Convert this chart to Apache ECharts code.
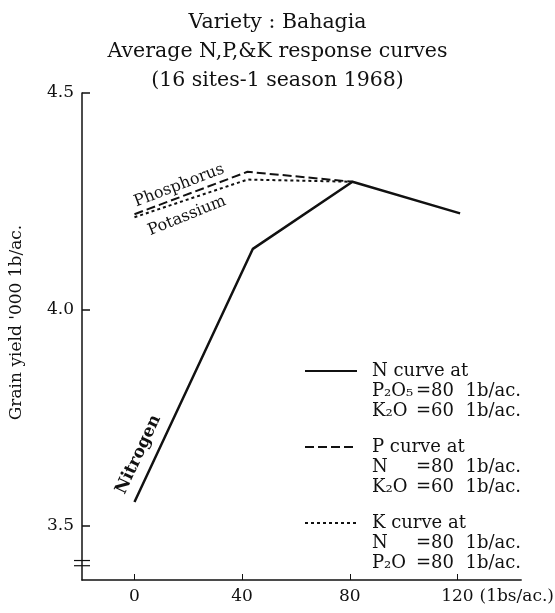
<!DOCTYPE html>
<html>
<head>
<meta charset="utf-8">
<script src="https://cdn.jsdelivr.net/npm/echarts@6/dist/echarts.min.js"></script>
<style>
  html, body { margin: 0; background: #fff; }
  #chart { width: 555px; height: 613px; }
</style>
</head>
<body>
<div id="chart"></div>
<script>
// values (x = lb/ac. of nutrient, y = '000 lb/ac.)
const xTicks = [0, 40, 80, 120];
const yTicks = [3.5, 4.0, 4.5];
const nitrogen = [[0, 3.555], [44, 4.14], [81, 4.295], [121, 4.222]];
const phosphorus = [[0, 4.22], [42, 4.318], [81, 4.295]];
const potassium = [[0, 4.213], [42, 4.3], [81, 4.295]];
const titleLines = ["Variety : Bahagia", "Average N,P,&K response curves", "(16 sites-1 season 1968)"];

const serif = "DejaVu Serif";
const legendNames = {
  N: "N curve at\n{k|P₂O₅}{v|=80  1b/ac.}\n{k|K₂O}{v|=60  1b/ac.}",
  P: "P curve at\n{k|N}{v|=80  1b/ac.}\n{k|K₂O}{v|=60  1b/ac.}",
  K: "K curve at\n{k|N}{v|=80  1b/ac.}\n{k|P₂O}{v|=80  1b/ac.}",
};

function curveLabel(name, coord, rotate, bold) {
  return {
    symbol: "circle",
    symbolSize: 0,
    silent: true,
    label: {
      show: true,
      position: "inside",
      formatter: "{b}",
      rotate: rotate,
      color: "#111",
      fontFamily: serif,
      fontSize: bold ? 17 : 16,
      fontWeight: bold ? "bold" : "normal",
    },
    data: [{ name: name, coord: coord }],
  };
}

const chart = echarts.init(document.getElementById("chart"));
const option = {
  backgroundColor: "#ffffff",
  animation: false,
  title: {
    text: titleLines.join("\n"),
    left: "center",
    top: 8,
    padding: 0,
    textStyle: {
      fontFamily: serif,
      fontSize: 20.5,
      fontWeight: "normal",
      lineHeight: 29,
      color: "#111",
    },
  },
  grid: { left: 72, right: 30, top: 93, bottom: 25 },
  legend: {
    orient: "vertical",
    left: 304,
    top: 321,
    bottom: 0,
    padding: 0,
    itemWidth: 52,
    itemHeight: 14,
    itemGap: -24,
    selectedMode: false,
    data: ["N", "P", "K"],
    itemStyle: { opacity: 0 },
    formatter: name => legendNames[name],
    textStyle: {
      fontFamily: serif,
      fontSize: 18,
      lineHeight: 20,
      color: "#111",
      padding: [40, 0, 0, 10],
      rich: {
        k: { fontFamily: serif, fontSize: 18, lineHeight: 20, width: 44 },
        v: { fontFamily: serif, fontSize: 18, lineHeight: 20 },
      },
    },
  },
  xAxis: {
    type: "value",
    min: -19.5,
    max: 143.7,
    name: "(1bs/ac.)",
    nameLocation: "end",
    nameGap: -53,
    nameTextStyle: {
      fontFamily: serif,
      fontSize: 17,
      color: "#111",
      align: "left",
      verticalAlign: "top",
      lineHeight: 33,
    },
    splitLine: { show: false },
    axisLine: { lineStyle: { color: "#111", width: 1.5 } },
    axisTick: { inside: true, length: 6, customValues: xTicks, lineStyle: { color: "#111" } },
    axisLabel: { customValues: xTicks, margin: 8, fontFamily: serif, fontSize: 17, color: "#111" },
  },
  yAxis: {
    type: "value",
    min: 3.375,
    max: 4.5,
    name: "Grain yield '000 1b/ac.",
    nameLocation: "middle",
    nameGap: 57,
    nameTextStyle: {
      fontFamily: serif,
      fontSize: 17,
      color: "#111",
      padding: [0, 0, 0, 28],
    },
    splitLine: { show: false },
    axisLine: { onZero: false, lineStyle: { color: "#111", width: 1.5 } },
    axisTick: { inside: true, length: 8, customValues: yTicks, lineStyle: { color: "#111", width: 1.5 } },
    axisLabel: {
      customValues: yTicks,
      margin: 8,
      fontFamily: serif,
      fontSize: 17,
      color: "#111",
      formatter: v => v.toFixed(1),
    },
  },
  series: [
    {
      name: "N",
      type: "line",
      data: nitrogen,
      symbol: "none",
      color: "#111",
      lineStyle: { color: "#111", width: 2.5, type: "solid" },
      markPoint: curveLabel("Nitrogen", [1.5, 3.665], 65, true),
    },
    {
      name: "P",
      type: "line",
      data: phosphorus,
      symbol: "none",
      color: "#111",
      lineStyle: { color: "#111", width: 2, type: [9, 4] },
      markPoint: curveLabel("Phosphorus", [16.6, 4.286], 21, false),
    },
    {
      name: "K",
      type: "line",
      data: potassium,
      symbol: "none",
      color: "#111",
      lineStyle: { color: "#111", width: 2, type: [3, 3] },
      markPoint: curveLabel("Potassium", [19.5, 4.216], 22, false),
    },
  ],
};
chart.setOption(option);

// axis break mark "=" near the bottom of the y axis
const a = chart.convertToPixel({ gridIndex: 0 }, [-19.5, 3.42]);
const b = chart.convertToPixel({ gridIndex: 0 }, [-19.5, 3.408]);
chart.setOption({
  graphic: [a, b].map(p => ({
    type: "line",
    shape: { x1: p[0] - 8, y1: p[1], x2: p[0] + 8, y2: p[1] },
    style: { stroke: "#111", lineWidth: 1.2 },
    silent: true,
  })),
});
</script>
</body>
</html>
